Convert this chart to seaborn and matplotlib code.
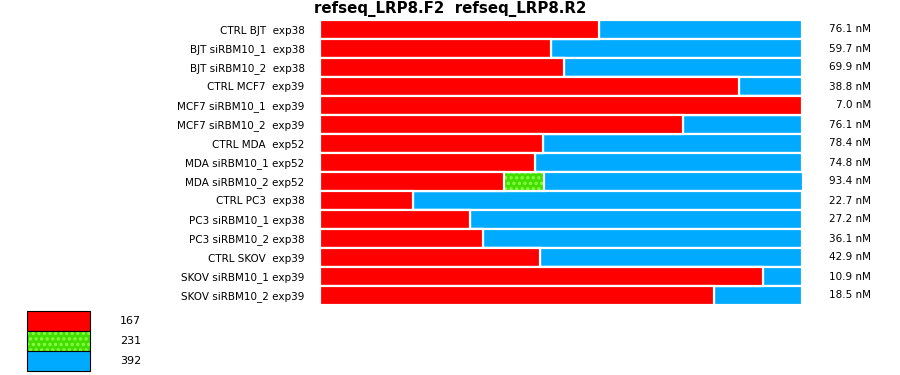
import matplotlib
matplotlib.use("Agg")
import matplotlib.pyplot as plt
import matplotlib.patches as mpatches
from matplotlib.colors import to_rgba
import seaborn as sns
import pandas as pd

# ---- data ----
samples = [
    "CTRL BJT  exp38", "BJT siRBM10_1  exp38", "BJT siRBM10_2  exp38",
    "CTRL MCF7  exp39", "MCF7 siRBM10_1  exp39", "MCF7 siRBM10_2  exp39",
    "CTRL MDA  exp52", "MDA siRBM10_1 exp52", "MDA siRBM10_2 exp52",
    "CTRL PC3  exp38", "PC3 siRBM10_1 exp38", "PC3 siRBM10_2 exp38",
    "CTRL SKOV  exp39", "SKOV siRBM10_1 exp39", "SKOV siRBM10_2 exp39",
]
pct_167 = [57.9, 47.9, 50.6, 86.9, 100.0, 75.3, 46.3, 44.6, 38.2,
           19.3, 31.1, 33.8, 45.6, 91.9, 81.7]
pct_231 = [0, 0, 0, 0, 0, 0, 0, 0, 8.3, 0, 0, 0, 0, 0, 0]
pct_392 = [42.1, 52.1, 49.4, 13.1, 0.0, 24.7, 53.7, 55.4, 53.7,
           80.7, 68.9, 66.2, 54.4, 8.1, 18.3]
concentration = ["76.1 nM", "59.7 nM", "69.9 nM", "38.8 nM", "7.0 nM",
                 "76.1 nM", "78.4 nM", "74.8 nM", "93.4 nM", "22.7 nM",
                 "27.2 nM", "36.1 nM", "42.9 nM", "10.9 nM", "18.5 nM"]
product_sizes = ["167", "231", "392"]
title = "refseq_LRP8.F2  refseq_LRP8.R2"

colors = ["#ff0000", "#44dd00", "#00aaff"]
hatch_col = "#88ff44"

df = pd.DataFrame({"sample": samples, "a": pct_167, "b": pct_231, "c": pct_392})
df["cum_a"] = df["a"]
df["cum_b"] = df["a"] + df["b"]
df["cum_c"] = df["a"] + df["b"] + df["c"]

sns.set_style("white")
plt.rcParams["font.family"] = ["DejaVu Sans"]
plt.rcParams["text.color"] = "black"
plt.rcParams["ytick.color"] = "black"
plt.rcParams["ytick.labelcolor"] = "black"
plt.rcParams["hatch.linewidth"] = 1.6

fig = plt.figure(figsize=(9, 3.75), dpi=100)
W, H = 900, 375
ax = fig.add_axes([320 / W, 1 - 305 / H, 482 / W, 285 / H])

edge_lw = 2.2 * 72 / 100  # ~2 px white separators
common = dict(data=df, y="sample", orient="h", width=1.0, saturation=1,
              errorbar=None, edgecolor="white", linewidth=edge_lw, ax=ax)
sns.barplot(x="cum_c", color=colors[2], **common)
sns.barplot(x="cum_b", color=colors[1], hatch="...", **common)
for p in ax.containers[-1]:
    p._hatch_color = to_rgba(hatch_col)
    p.stale = True
sns.barplot(x="cum_a", color=colors[0], **common)

ax.set_xlim(0, 100)
ax.set_ylim(len(samples) - 0.5, -0.5)
for b in ax.patches:
    b.set_clip_on(False)
ax.set_xlabel("")
ax.set_ylabel("")
ax.xaxis.set_visible(False)
sns.despine(ax=ax, left=True, bottom=True)
ax.tick_params(axis="y", length=0, pad=11, labelsize=7.5, labelcolor="black")

# concentration labels on the right
for i, txt in enumerate(concentration):
    ax.text((871 - 320) / 482, i, txt, transform=ax.get_yaxis_transform(),
            ha="right", va="center", fontsize=7.5, color="black")

fig.text(0.5, 1 - 9 / H, title, ha="center", va="center",
         fontsize=10.8, fontweight="bold", color="black")

handles = [mpatches.Patch(facecolor=c, edgecolor="black", linewidth=0.8)
           for c in colors]
handles[1].set_hatch("...")
fs_px = 8 * 100 / 72
leg = fig.legend(handles, product_sizes, loc="upper left",
                 bbox_to_anchor=(27 / W, 1 - 311 / H),
                 bbox_transform=fig.transFigure, frameon=False,
                 borderpad=0, borderaxespad=0, labelspacing=0,
                 handlelength=63 / fs_px,
                 handleheight=(20 / fs_px - 0.245) / 0.65,
                 handletextpad=30 / fs_px, fontsize=8)
lh = leg.legend_handles[1]
lh._hatch_color = to_rgba(hatch_col)
lh.stale = True

fig.savefig("out.png", dpi=100, facecolor="white")
